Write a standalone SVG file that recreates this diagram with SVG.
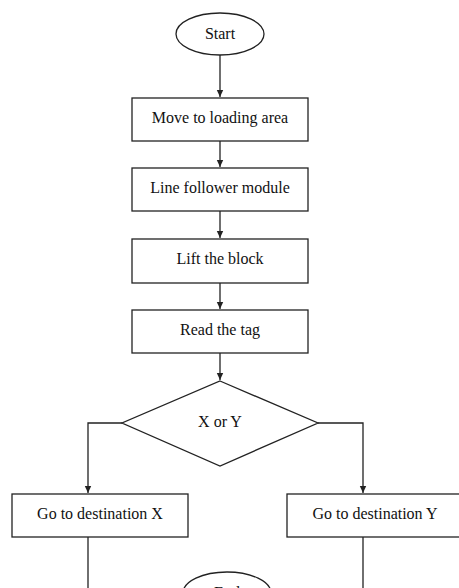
<svg xmlns="http://www.w3.org/2000/svg" width="459" height="588" viewBox="0 0 459 588">
<style>
.s{fill:#fff;stroke:#222;stroke-width:1.3}
.t{font-family:"Liberation Serif","Times New Roman",serif;font-size:16px;fill:#111;text-anchor:middle}
.c{fill:none;stroke:#222;stroke-width:1.3}
</style>
<defs>
<marker id="ah" markerWidth="8" markerHeight="8" refX="7" refY="4" orient="auto" markerUnits="userSpaceOnUse">
<path d="M0,0.8 L7,4 L0,7.2 Z" fill="#222"/>
</marker>
</defs>
<rect width="459" height="588" fill="#fff"/>
<g id="connectors">
<path class="c" d="M220,55 V97" marker-end="url(#ah)"/>
<path class="c" d="M220,141 V167" marker-end="url(#ah)"/>
<path class="c" d="M220,211 V238" marker-end="url(#ah)"/>
<path class="c" d="M220,283 V309" marker-end="url(#ah)"/>
<path class="c" d="M220,353 V380" marker-end="url(#ah)"/>
<path class="c" d="M122,423 H88 V493" marker-end="url(#ah)"/>
<path class="c" d="M318,423 H363 V493" marker-end="url(#ah)"/>
<path class="c" d="M88,537 V588"/>
<path class="c" d="M363,537 V588"/>
</g>
<g id="start">
<ellipse class="s" cx="220" cy="34" rx="44" ry="21"/>
<text class="t" x="220" y="39">Start</text>
</g>
<g id="move">
<rect class="s" x="132" y="98" width="176" height="43"/>
<text class="t" x="220" y="123">Move to loading area</text>
</g>
<g id="line">
<rect class="s" x="132" y="168" width="176" height="43"/>
<text class="t" x="220" y="193">Line follower module</text>
</g>
<g id="lift">
<rect class="s" x="132" y="239" width="176" height="44"/>
<text class="t" x="220" y="264">Lift the block</text>
</g>
<g id="read">
<rect class="s" x="132" y="310" width="176" height="43"/>
<text class="t" x="220" y="335">Read the tag</text>
</g>
<g id="decision">
<polygon class="s" points="220,381 318,423 220,466 122,423"/>
<text class="t" x="220" y="427">X or Y</text>
</g>
<g id="destX">
<rect class="s" x="12" y="494" width="176" height="43"/>
<text class="t" x="100" y="519">Go to destination X</text>
</g>
<g id="destY">
<rect class="s" x="287" y="494" width="176" height="43"/>
<text class="t" x="375" y="519">Go to destination Y</text>
</g>
<g id="end">
<ellipse class="s" cx="227" cy="593" rx="44" ry="21"/>
<text class="t" x="227" y="598">End</text>
</g>
</svg>
